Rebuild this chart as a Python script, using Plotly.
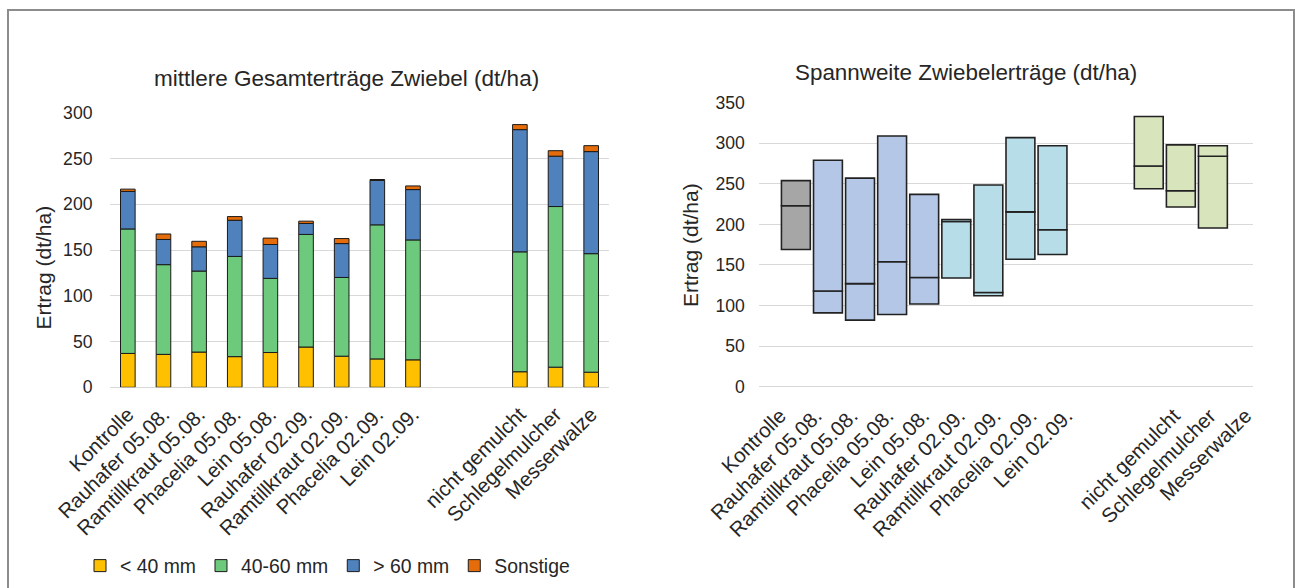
import plotly.graph_objects as go

# ---------------- data ----------------
categories = ["Kontrolle", "Rauhafer 05.08.", "Ramtillkraut 05.08.", "Phacelia 05.08.",
              "Lein 05.08.", "Rauhafer 02.09.", "Ramtillkraut 02.09.", "Phacelia 02.09.",
              "Lein 02.09.", "nicht gemulcht", "Schlegelmulcher", "Messerwalze"]
# slot positions (two empty slots between the groups)
positions = [0, 1, 2, 3, 4, 5, 6, 7, 8, 11, 12, 13]

under40 = [37, 36, 38.5, 33.5, 38, 44, 34, 31, 30, 17, 22, 16.5]
mid40_60 = [136, 98, 88.5, 109.5, 81, 123, 86, 146.5, 131, 131, 175.5, 129.5]
over60 = [41, 27.5, 26.5, 39.5, 37, 12, 37, 48.5, 55, 133.5, 55, 111.5]
sonstige = [2.5, 6, 6, 4, 7, 2.5, 5.5, 1, 4, 5.5, 6, 6.5]

range_min = [169, 91, 82, 89, 102, 134, 112, 157, 163, 244, 221.5, 195.5]
range_med = [223, 118, 127, 154, 134.5, 203.5, 116, 215.5, 193.5, 272, 241.5, 284]
range_max = [254, 279, 257, 309, 237, 206, 248.5, 307, 297, 333, 298, 297]

series_names = ["< 40 mm", "40-60 mm", "> 60 mm", "Sonstige"]
series_colors = ["#FFC000", "#6DC97B", "#4F81BD", "#E46C0A"]
range_colors = ["#A6A6A6"] + ["#B4C7E7"] * 4 + ["#B7DDE8"] * 4 + ["#D8E4BC"] * 3

FONT = "Liberation Sans, Arial, sans-serif"
TXT = "#262626"
W, H = 1295, 588

fig = go.Figure()

# ---------------- left: stacked bars ----------------
cum = [0] * len(positions)
for name, vals, col in zip(series_names, [under40, mid40_60, over60, sonstige], series_colors):
    fig.add_trace(go.Bar(
        x=positions, y=vals, base=list(cum), name=name, width=0.41,
        marker=dict(color=col, line=dict(color="#1a1a1a", width=1)),
        xaxis="x", yaxis="y", showlegend=True, hoverinfo="skip",
    ))
    cum = [c + v for c, v in zip(cum, vals)]

# ---------------- right: floating range bars ----------------
lower = [m - a for a, m in zip(range_min, range_med)]
upper = [b - m for m, b in zip(range_med, range_max)]
fig.add_trace(go.Bar(
    x=positions, y=lower, base=range_min, width=0.9,
    marker=dict(color=range_colors, line=dict(color="#222222", width=1.6)),
    xaxis="x2", yaxis="y2", showlegend=False,
))
fig.add_trace(go.Bar(
    x=positions, y=upper, base=range_med, width=0.9,
    marker=dict(color=range_colors, line=dict(color="#222222", width=1.6)),
    xaxis="x2", yaxis="y2", showlegend=False,
))
# invisible carrier for the category-label axis of the right chart
fig.add_trace(go.Scatter(
    x=positions, y=range_min, mode="markers", marker=dict(opacity=0),
    xaxis="x3", yaxis="y2", showlegend=False, hoverinfo="skip",
))

grid = "#D9D9D9"
common_y = dict(showgrid=True, gridcolor=grid, gridwidth=1, zeroline=True, zerolinecolor=grid,
                zerolinewidth=1, showline=False, ticks="outside", tickcolor="rgba(0,0,0,0)",
                automargin=False, tickfont=dict(family=FONT, size=17.6, color=TXT))
xtick_font = dict(family=FONT, size=20.5, color=TXT)

fig.update_layout(
    width=W, height=H,
    margin=dict(l=0, r=0, t=0, b=0, autoexpand=False),
    paper_bgcolor="white", plot_bgcolor="white",
    barmode="overlay",
    font=dict(family=FONT, color=TXT),
    xaxis=dict(domain=[110 / W, 609 / W], range=[-0.5, 13.5], anchor="y",
               showgrid=False, zeroline=False, showline=False, automargin=False,
               tickmode="array", tickvals=positions, ticktext=categories, tickangle=-45,
               tickfont=xtick_font, ticks="outside", ticklen=6, tickcolor="rgba(0,0,0,0)"),
    yaxis=dict(domain=[(H - 387.3) / H, (H - 112.7) / H], range=[0, 300], dtick=50,
               anchor="x", ticklen=13, **common_y),
    xaxis2=dict(domain=[759.3 / W, 1252.7 / W], range=[-1.14, 14.24], anchor="y2",
                showgrid=False, zeroline=False, showline=False, automargin=False,
                showticklabels=False, ticks=""),
    xaxis3=dict(overlaying="x2", anchor="y2", range=[-0.58, 13.2],
                showgrid=False, zeroline=False, showline=False, automargin=False,
                tickmode="array", tickvals=positions, ticktext=categories, tickangle=-45,
                tickfont=xtick_font, ticks="outside", ticklen=8, tickcolor="rgba(0,0,0,0)"),
    yaxis2=dict(domain=[(H - 386.7) / H, (H - 102.7) / H], range=[0, 350], dtick=50,
                anchor="x2", ticklen=10, **common_y),
    legend=dict(orientation="h", x=80 / W, y=1 - 566 / H, xanchor="left", yanchor="middle",
                font=dict(family=FONT, size=19.4, color=TXT), traceorder="normal",
                itemwidth=30, tracegroupgap=0, bgcolor="rgba(0,0,0,0)"),
    annotations=[
        dict(text="mittlere Gesamterträge Zwiebel (dt/ha)", x=346 / W, y=1 - 78 / H,
             xref="paper", yref="paper", showarrow=False, xanchor="center", yanchor="middle",
             font=dict(family=FONT, size=22.5, color=TXT)),
        dict(text="Spannweite Zwiebelerträge (dt/ha)", x=966 / W, y=1 - 73 / H,
             xref="paper", yref="paper", showarrow=False, xanchor="center", yanchor="middle",
             font=dict(family=FONT, size=22.4, color=TXT)),
        dict(text="Ertrag (dt/ha)", x=42.5 / W, y=1 - 267 / H, textangle=-90,
             xref="paper", yref="paper", showarrow=False, xanchor="center", yanchor="middle",
             font=dict(family=FONT, size=21, color=TXT)),
        dict(text="Ertrag (dt/ha)", x=690 / W, y=1 - 245 / H, textangle=-90,
             xref="paper", yref="paper", showarrow=False, xanchor="center", yanchor="middle",
             font=dict(family=FONT, size=21, color=TXT)),
    ],
    shapes=[dict(type="rect", xref="paper", yref="paper", x0=8 / W, x1=1294 / W,
                 y0=-0.02, y1=1 - 10 / H, line=dict(color="#8C8C8C", width=2),
                 fillcolor="rgba(0,0,0,0)", layer="above")],
)

fig.write_html("out.html", config={"displayModeBar": False},
               post_script="document.body.style.margin='0';document.body.style.overflow='hidden';")
